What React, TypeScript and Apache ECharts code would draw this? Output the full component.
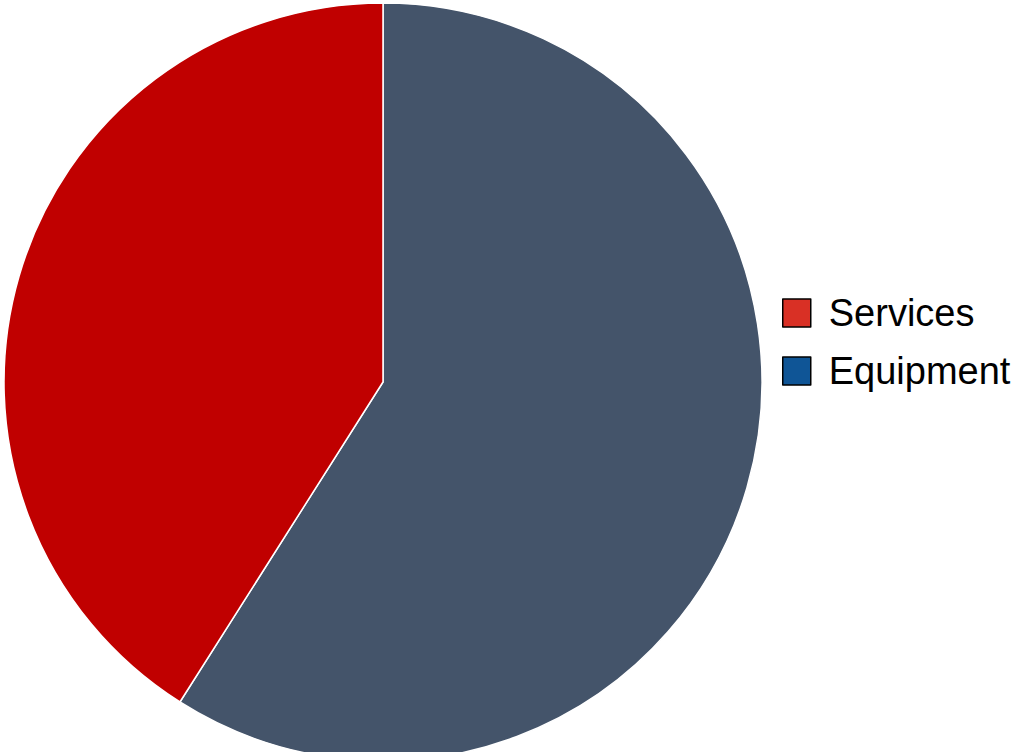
import React, { useEffect, useRef } from "react";
import * as echarts from "echarts";

const categories = ["Equipment", "Services"];
const values = [59, 41];
const sliceColors = ["#44546a", "#c00000"];
const legendOrder = ["Services", "Equipment"];
const legendColors = ["#d93025", "#0f5596"];

export default function App() {
  const ref = useRef<HTMLDivElement>(null);
  useEffect(() => {
    if (!ref.current) return;
    const chart = echarts.init(ref.current, undefined, { renderer: "svg" });
    chart.setOption({
      animation: false,
      legend: {
        orient: "vertical",
        left: 777,
        top: 289,
        itemWidth: 28,
        itemHeight: 28,
        itemGap: 20,
        itemTextGap: 10,
        icon: "rect",
        selectedMode: false,
        textStyle: { fontFamily: "Liberation Sans", fontSize: 38, color: "#000", padding: [0, 0, 0, 13] },
        data: legendOrder.map((n, i) => ({
          name: n,
          itemStyle: { color: legendColors[i], borderColor: "#000", borderWidth: 1.5 },
        })),
      },
      series: [
        {
          type: "pie",
          center: [383, 382],
          radius: 379,
          startAngle: 90,
          clockwise: true,
          label: { show: false },
          labelLine: { show: false },
          emphasis: { disabled: true },
          itemStyle: { borderColor: "#fff", borderWidth: 1.5 },
          data: categories.map((c, i) => ({
            name: c,
            value: values[i],
            itemStyle: { color: sliceColors[i] },
          })),
        },
      ],
    });
    return () => chart.dispose();
  }, []);
  return <div ref={ref} style={{ width: 1017, height: 752, position: "absolute", left: 0, top: 0 }} />;
}
